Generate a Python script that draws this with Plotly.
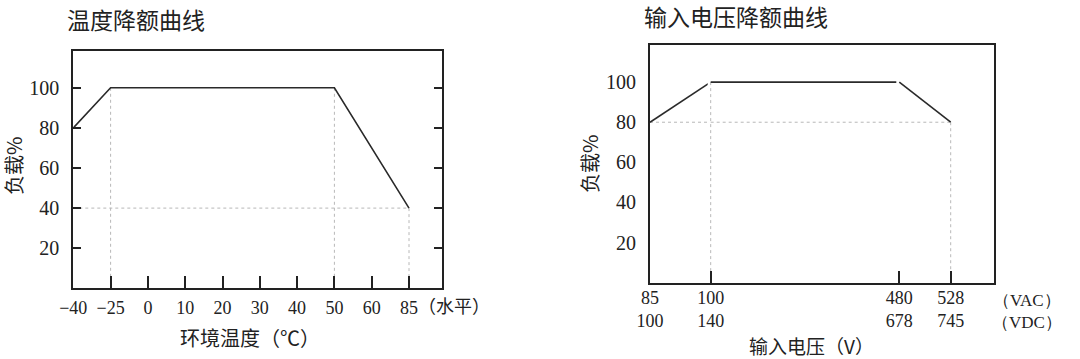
import plotly.graph_objects as go

# ---------------- data ----------------
# Temperature derating
temp_tick_values = [-40, -25, 0, 10, 20, 30, 40, 50, 60, 85]
temp_points = [-40, -25, 50, 85]
temp_load = [80, 100, 100, 40]

# Input-voltage derating
vac_points = [85, 100, 480, 528]
vdc_points = [100, 140, 678, 745]
volt_load = [80, 100, 100, 80]

load_ticks = [20, 40, 60, 80, 100]

title_temp = "温度降额曲线"
title_volt = "输入电压降额曲线"
xlabel_temp = "环境温度（℃）"
xlabel_volt = "输入电压（V）"
ylabel = "负载%"
temp_suffix = "（水平）"
vac_suffix = "（VAC）"
vdc_suffix = "（VDC）"

# ---------------- style ----------------
W, H = 1080, 359
SERIF = "Liberation Serif, DejaVu Serif, serif"
CJK = "Noto Sans CJK SC, Liberation Serif"
INK = "#222222"
LINE = "#2a2a2a"
REF = "#b8b8b8"
Y_MAX = 118.5


def lab(v):
    return str(v).replace("-", "\u2212")


def px_x(p):
    return p / W


def px_y(p):
    return 1 - p / H


fig = go.Figure()

# ---------------- left chart (category axis) ----------------
temp_cats = [lab(v) for v in temp_tick_values]
tx = [lab(v) for v in temp_points]

fig.add_trace(go.Scatter(x=[tx[0], tx[3]], y=[temp_load[3], temp_load[3]], mode="lines",
                         line=dict(color=REF, width=1, dash="dot"), xaxis="x", yaxis="y",
                         hoverinfo="skip", showlegend=False))
for i in (1, 2, 3):
    fig.add_trace(go.Scatter(x=[tx[i], tx[i]], y=[temp_load[i], 0], mode="lines",
                             line=dict(color=REF, width=1, dash="dot"), xaxis="x", yaxis="y",
                             hoverinfo="skip", showlegend=False))
fig.add_trace(go.Scatter(x=tx, y=temp_load, mode="lines", line=dict(color=LINE, width=1.6),
                         xaxis="x", yaxis="y", showlegend=False))

L_left, L_right, L_top, L_bot = 73.3, 441.7, 50.7, 288.3
cat_step = (409.0 - L_left) / (len(temp_cats) - 1)
common_axis = dict(showgrid=False, zeroline=False, showline=True, linecolor=INK, linewidth=2,
                   automargin=False)

fig.update_layout(
    xaxis=dict(domain=[px_x(L_left), px_x(L_right)], type="category",
               categoryorder="array", categoryarray=temp_cats,
               range=[0, (L_right - L_left) / cat_step], anchor="y",
               mirror=True, ticks="inside", ticklen=12, tickwidth=2, tickcolor=INK,
               tickfont=dict(family=SERIF, size=18, color=INK), ticklabelstandoff=2,
               **common_axis),
    yaxis=dict(domain=[px_y(L_bot), px_y(L_top)], range=[0, Y_MAX], tickvals=load_ticks,
               anchor="x", mirror="ticks", ticks="inside", ticklen=8, tickwidth=1.5,
               tickcolor=INK, tickfont=dict(family=SERIF, size=20, color=INK),
               ticklabelstandoff=8, **common_axis),
)

# ---------------- right chart (broken linear axis) ----------------
R_left, R_right, R_top, R_bot = 650.0, 994.0, 45.0, 282.7
knot_px = [650.0, 710.7, 899.3, 950.7]   # screen position of each VAC breakpoint
PAD = 3.0
seg_axes = ["x3", "x4", "x5"]
seg_layout = {}
for i in range(3):
    a, b = vac_points[i], vac_points[i + 1]
    pa, pb = knot_px[i], knot_px[i + 1]
    s = (pb - pa) / (b - a)
    dl = R_left if i == 0 else pa - PAD
    dr = R_right if i == 2 else pb + PAD
    rng = [a + (dl - pa) / s, a + (dr - pa) / s]
    idx = [i] if i < 2 else [2, 3]
    tv = [vac_points[k] for k in idx]
    tt = [f"{vac_points[k]}<br>{vdc_points[k]}" for k in idx]
    seg_layout[f"xaxis{i + 3}"] = dict(
        domain=[px_x(dl), px_x(dr)], range=rng, anchor="y2", showgrid=False, zeroline=False,
        showline=False, automargin=False, tickvals=tv, ticktext=tt, ticks="inside", ticklen=12,
        tickwidth=2, tickcolor=INK, tickfont=dict(family=SERIF, size=18, color=INK),
        ticklabelstandoff=2)

ref_h = volt_load[0]
for i in range(3):
    fig.add_trace(go.Scatter(x=[vac_points[i], vac_points[i + 1]], y=[ref_h, ref_h], mode="lines",
                             line=dict(color=REF, width=1, dash="dot"), xaxis=seg_axes[i], yaxis="y2",
                             hoverinfo="skip", showlegend=False))
for k, ax in ((1, "x4"), (2, "x4"), (3, "x5")):
    fig.add_trace(go.Scatter(x=[vac_points[k], vac_points[k]], y=[volt_load[k], 0], mode="lines",
                             line=dict(color=REF, width=1, dash="dot"), xaxis=ax, yaxis="y2",
                             hoverinfo="skip", showlegend=False))
for i in range(3):
    fig.add_trace(go.Scatter(x=vac_points[i:i + 2], y=volt_load[i:i + 2], mode="lines",
                             line=dict(color=LINE, width=1.6), xaxis=seg_axes[i], yaxis="y2",
                             showlegend=False))
fig.add_trace(go.Scatter(x=[], y=[], xaxis="x2", yaxis="y2", showlegend=False))

fig.update_layout(
    xaxis2=dict(domain=[px_x(R_left), px_x(R_right)], range=[0, 1], anchor="y2", mirror=True,
                showticklabels=False, ticks="", **common_axis),
    yaxis2=dict(domain=[px_y(R_bot), px_y(R_top)], range=[0, Y_MAX], tickvals=load_ticks,
                anchor="x2", mirror="ticks", ticks="inside", ticklen=8, tickwidth=1.5,
                tickcolor=INK, tickfont=dict(family=SERIF, size=20, color=INK),
                ticklabelstandoff=8, **common_axis),
    **seg_layout,
)

# ---------------- text ----------------
ann = []


def add_text(text, x, y, size, xanchor="center", family=CJK, angle=0):
    ann.append(dict(text=text, x=px_x(x), y=px_y(y), xref="paper", yref="paper",
                    xanchor=xanchor, yanchor="middle", showarrow=False, textangle=angle,
                    borderpad=0, font=dict(family=family, size=size, color=INK)))


add_text(title_temp, 66, 19, 23, xanchor="left")
add_text(title_volt, 643, 16, 23, xanchor="left")
add_text(xlabel_temp, 250, 337, 20)
add_text(xlabel_volt, 811, 345, 19)
add_text(ylabel, 13, 166, 20, angle=-90)
add_text(ylabel, 589, 164, 20, angle=-90)
add_text(temp_suffix, 454, 305, 18)
add_text(vac_suffix, 1027, 300, 17, family=SERIF)
add_text(vdc_suffix, 1027, 322, 17, family=SERIF)

fig.update_layout(width=W, height=H, margin=dict(l=0, r=0, t=0, b=0),
                  paper_bgcolor="white", plot_bgcolor="white", annotations=ann,
                  showlegend=False)

fig.write_html("out.html")
